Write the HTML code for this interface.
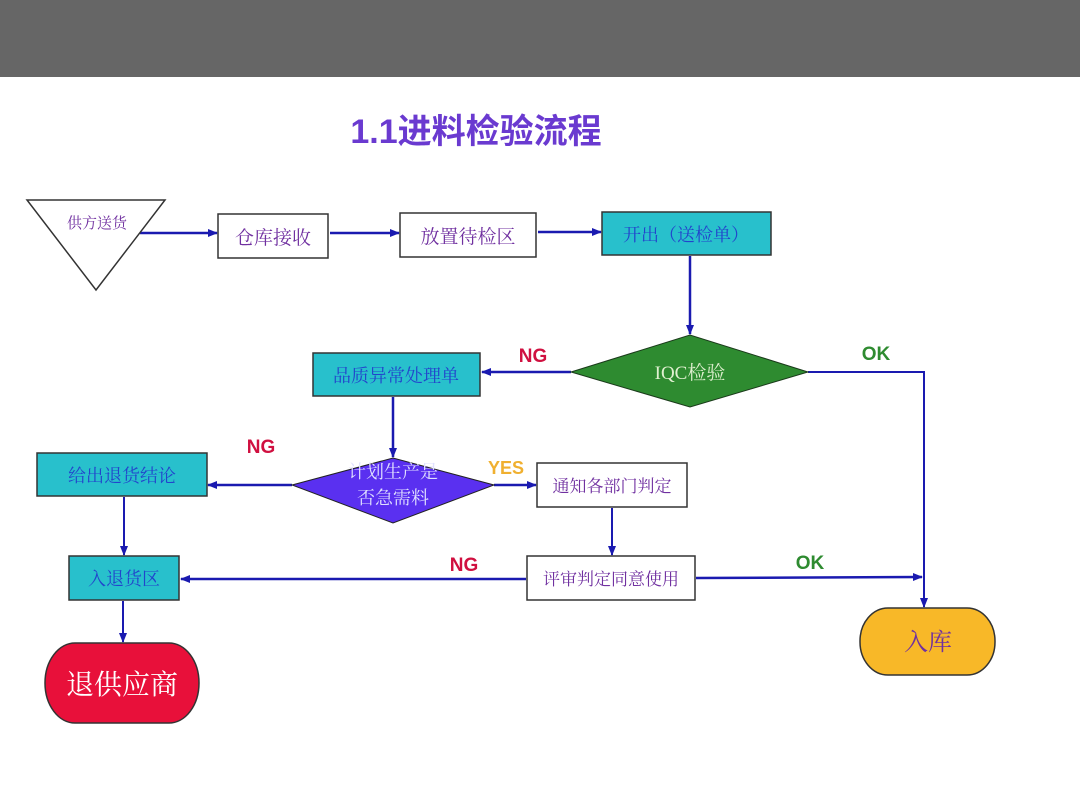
<!DOCTYPE html>
<html><head><meta charset="utf-8"><style>
html,body{margin:0;padding:0;background:#fff;}
svg{display:block}
.s{font-family:"Liberation Serif","Noto Serif CJK SC",serif;}
.b{font-family:"Liberation Sans","Noto Sans CJK SC",sans-serif;font-weight:bold;}
</style></head><body>
<svg width="1080" height="810" viewBox="0 0 1080 810" xmlns="http://www.w3.org/2000/svg">
<defs>
<marker id="a" markerWidth="10" markerHeight="10" refX="9" refY="5" orient="auto" markerUnits="userSpaceOnUse"><path d="M0,1 L10,5 L0,9 Z" fill="#1a1ab0"/></marker>
</defs>
<rect x="0" y="0" width="1080" height="77" fill="#666666"/>
<text x="476" y="143" text-anchor="middle" class="b" font-size="34" fill="#6a3ad0">1.1进料检验流程</text>

<g stroke="#1a1ab0" stroke-width="2.5" fill="none">
<line x1="140" y1="233" x2="217" y2="233" marker-end="url(#a)"/>
<line x1="330" y1="233" x2="399" y2="233" marker-end="url(#a)"/>
<line x1="538" y1="232" x2="601" y2="232" marker-end="url(#a)"/>
<line x1="690" y1="256" x2="690" y2="334" marker-end="url(#a)"/>
<line x1="571" y1="372" x2="482" y2="372" marker-end="url(#a)"/>
<polyline points="808,372 924,372 924,607" marker-end="url(#a)" stroke-width="2"/>
<line x1="393" y1="397" x2="393" y2="457" marker-end="url(#a)"/>
<line x1="292" y1="485" x2="208" y2="485" marker-end="url(#a)"/>
<line x1="494" y1="485" x2="536" y2="485" marker-end="url(#a)"/>
<line x1="612" y1="508" x2="612" y2="555" marker-end="url(#a)" stroke-width="2"/>
<line x1="526" y1="579" x2="181" y2="579" marker-end="url(#a)"/>
<line x1="696" y1="578" x2="922" y2="577" marker-end="url(#a)"/>
<line x1="124" y1="497" x2="124" y2="555" marker-end="url(#a)" stroke-width="2"/>
<line x1="123" y1="601" x2="123" y2="642" marker-end="url(#a)" stroke-width="2"/>
</g>

<polygon points="27,200 165,200 96,290" fill="#fff" stroke="#333" stroke-width="1.5"/>
<text x="97" y="228" text-anchor="middle" class="s" font-size="15" fill="#7030a0">供方送货</text>

<rect x="218" y="214" width="110" height="44" fill="#fff" stroke="#333" stroke-width="1.5"/>
<text x="273" y="244" text-anchor="middle" class="s" font-size="19" fill="#7030a0">仓库接收</text>
<rect x="400" y="213" width="136" height="44" fill="#fff" stroke="#333" stroke-width="1.5"/>
<text x="468" y="243" text-anchor="middle" class="s" font-size="19" fill="#7030a0">放置待检区</text>
<rect x="602" y="212" width="169" height="43" fill="#28c0cc" stroke="#333" stroke-width="1.5"/>
<text x="686" y="241" text-anchor="middle" class="s" font-size="18" fill="#2244cc">开出（送检单）</text>

<polygon points="571,372 690,335 808,372 690,407" fill="#2e8b30" stroke="#1a3a1a" stroke-width="1"/>
<text x="690" y="379" text-anchor="middle" class="s" font-size="19" fill="#e0f0d0">IQC检验</text>
<text x="533" y="362" text-anchor="middle" class="b" font-size="19" fill="#d01040">NG</text>
<text x="876" y="360" text-anchor="middle" class="b" font-size="19" fill="#2e8b30">OK</text>

<rect x="313" y="353" width="167" height="43" fill="#28c0cc" stroke="#333" stroke-width="1.5"/>
<text x="396" y="382" text-anchor="middle" class="s" font-size="18" fill="#2244cc">品质异常处理单</text>

<polygon points="292,485 393,458 494,485 393,523" fill="#5a30f0" stroke="#222" stroke-width="1"/>
<text x="393" y="478" text-anchor="middle" class="s" font-size="18" fill="#e0e0ff">计划生产是</text>
<text x="393" y="504" text-anchor="middle" class="s" font-size="18" fill="#e0e0ff">否急需料</text>
<text x="261" y="453" text-anchor="middle" class="b" font-size="19" fill="#d01040">NG</text>
<text x="506" y="474" text-anchor="middle" class="b" font-size="18" fill="#f0b030">YES</text>

<rect x="37" y="453" width="170" height="43" fill="#28c0cc" stroke="#333" stroke-width="1.5"/>
<text x="122" y="482" text-anchor="middle" class="s" font-size="18" fill="#2244cc">给出退货结论</text>

<rect x="537" y="463" width="150" height="44" fill="#fff" stroke="#333" stroke-width="1.5"/>
<text x="612" y="492" text-anchor="middle" class="s" font-size="17" fill="#7030a0">通知各部门判定</text>

<rect x="527" y="556" width="168" height="44" fill="#fff" stroke="#333" stroke-width="1.5"/>
<text x="611" y="585" text-anchor="middle" class="s" font-size="17" fill="#7030a0">评审判定同意使用</text>
<text x="464" y="571" text-anchor="middle" class="b" font-size="19" fill="#d01040">NG</text>
<text x="810" y="569" text-anchor="middle" class="b" font-size="19" fill="#2e8b30">OK</text>

<rect x="69" y="556" width="110" height="44" fill="#28c0cc" stroke="#333" stroke-width="1.5"/>
<text x="124" y="585" text-anchor="middle" class="s" font-size="18" fill="#2244cc">入退货区</text>

<rect x="45" y="643" width="154" height="80" rx="30" ry="40" fill="#e8103a" stroke="#333" stroke-width="1.5"/>
<text x="122" y="694" text-anchor="middle" class="s" font-size="28" fill="#fff">退供应商</text>

<rect x="860" y="608" width="135" height="67" rx="28" ry="33" fill="#f8b828" stroke="#333" stroke-width="1.5"/>
<text x="928" y="650" text-anchor="middle" class="s" font-size="24" fill="#7030a0">入库</text>
</svg>
</body></html>
